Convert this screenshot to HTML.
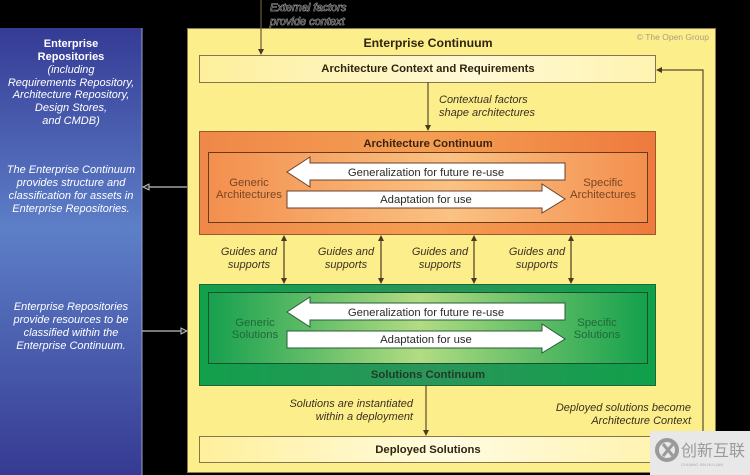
<!DOCTYPE html>
<html><head><meta charset="utf-8"><style>
html,body{margin:0;padding:0;background:#000;}
svg{display:block;}
text{font-family:"Liberation Sans",Arial,sans-serif;}
</style></head><body>
<svg width="750" height="475" viewBox="0 0 750 475" xmlns="http://www.w3.org/2000/svg">
<defs>
<linearGradient id="blue" x1="0" y1="0" x2="0" y2="1">
<stop offset="0" stop-color="#353b95"/><stop offset="0.45" stop-color="#5d7fc8"/><stop offset="1" stop-color="#363a92"/>
</linearGradient>
<linearGradient id="ctx" x1="0" y1="0" x2="1" y2="0">
<stop offset="0" stop-color="#fdef9c"/><stop offset="0.6" stop-color="#fff9d6"/><stop offset="1" stop-color="#fff3b0"/>
</linearGradient>
<linearGradient id="dep" x1="0" y1="0" x2="1" y2="0">
<stop offset="0" stop-color="#fff09c"/><stop offset="0.55" stop-color="#fffbe0"/><stop offset="1" stop-color="#fff3b0"/>
</linearGradient>
<linearGradient id="oOut" x1="0" y1="0" x2="1" y2="0">
<stop offset="0" stop-color="#ef8849"/><stop offset="0.5" stop-color="#f49e52"/><stop offset="1" stop-color="#ee7a3e"/>
</linearGradient>
<linearGradient id="oIn" x1="0" y1="0" x2="1" y2="0">
<stop offset="0" stop-color="#f38f4e"/><stop offset="0.55" stop-color="#fac283"/><stop offset="1" stop-color="#f38f4e"/>
</linearGradient>
<linearGradient id="gOut" x1="0" y1="0" x2="1" y2="0">
<stop offset="0" stop-color="#12a04c"/><stop offset="0.5" stop-color="#2b955a"/><stop offset="1" stop-color="#10a04a"/>
</linearGradient>
<linearGradient id="gIn" x1="0" y1="0" x2="1" y2="0">
<stop offset="0" stop-color="#16a04e"/><stop offset="0.48" stop-color="#b2dc82"/><stop offset="1" stop-color="#14a04c"/>
</linearGradient>
</defs>

<!-- blue repository column -->
<rect x="0" y="28" width="142" height="447" fill="url(#blue)"/>
<line x1="142" y1="28" x2="142" y2="475" stroke="#9aa0c8" stroke-width="1"/>
<g fill="#ffffff" text-anchor="middle" font-size="11">
<text x="71" y="47" font-weight="bold">Enterprise</text>
<text x="71" y="60" font-weight="bold">Repositories</text>
<g font-style="italic">
<text x="71" y="73">(including</text>
<text x="71" y="86">Requirements Repository,</text>
<text x="71" y="98">Architecture Repository,</text>
<text x="71" y="111">Design Stores,</text>
<text x="71" y="124">and CMDB)</text>
<text x="71" y="173">The Enterprise Continuum</text>
<text x="71" y="186">provides structure and</text>
<text x="71" y="199">classification for assets in</text>
<text x="71" y="212">Enterprise Repositories.</text>
<text x="71" y="310">Enterprise Repositories</text>
<text x="71" y="323">provide resources to be</text>
<text x="71" y="336">classified within the</text>
<text x="71" y="349">Enterprise Continuum.</text>
</g></g>

<!-- main yellow box -->
<rect x="187.5" y="28.5" width="528" height="444" fill="#fdee8c" stroke="#8a7d55" stroke-width="1"/>
<text x="428" y="47" text-anchor="middle" font-size="12.3" font-weight="bold" fill="#2e2510">Enterprise Continuum</text>
<text x="709" y="40" text-anchor="end" font-size="8.5" fill="#a8a080">© The Open Group</text>

<!-- context box -->
<rect x="199.5" y="55.5" width="456" height="27" fill="url(#ctx)" stroke="#857650" stroke-width="1"/>
<text x="428" y="72" text-anchor="middle" font-size="11.3" font-weight="bold" fill="#2e2510">Architecture Context and Requirements</text>

<!-- external factors -->
<line x1="261" y1="0" x2="261" y2="50" stroke="#6a5a3a" stroke-width="1.2"/>
<polygon points="258,49 264,49 261,55" fill="#4a3a20"/>
<g font-size="11" font-style="italic" fill="#333" stroke="#e8e8e8" stroke-width="0.6" paint-order="stroke">
<text x="270" y="11">External factors</text>
<text x="270" y="25">provide context</text>
</g>

<!-- contextual factors arrow -->
<line x1="428" y1="82" x2="428" y2="126" stroke="#5a4a30" stroke-width="1.2"/>
<polygon points="425,125 431,125 428,131" fill="#4a3a20"/>
<g font-size="11" font-style="italic" fill="#3a3020">
<text x="439" y="103">Contextual factors</text>
<text x="439" y="116">shape architectures</text>
</g>

<!-- Architecture continuum -->
<rect x="199.5" y="131.5" width="456" height="103" fill="url(#oOut)" stroke="#9a5a30" stroke-width="1"/>
<rect x="208.5" y="152.5" width="439" height="70" fill="url(#oIn)" stroke="#6a3a1a" stroke-width="1"/>
<text x="428" y="147" text-anchor="middle" font-size="11.3" font-weight="bold" fill="#3a2410">Architecture Continuum</text>
<polygon points="565,163 310,163 310,157 287,172 310,187 310,180 565,180" fill="#fff" stroke="#6a4028" stroke-width="1"/>
<polygon points="287,191 542,191 542,184 565,199 542,213 542,208 287,208" fill="#fff" stroke="#6a4028" stroke-width="1"/>
<g font-size="11.3" fill="#2a2a2a" text-anchor="middle">
<text x="426" y="176">Generalization for future re-use</text>
<text x="426" y="203">Adaptation for use</text>
</g>
<g font-size="11.3" fill="#7b4520" text-anchor="middle">
<text x="249" y="186">Generic</text>
<text x="249" y="198">Architectures</text>
<text x="603" y="186">Specific</text>
<text x="603" y="198">Architectures</text>
</g>

<!-- guides and supports -->
<g stroke="#4a3a20" stroke-width="1.2">
<line x1="284" y1="240" x2="284" y2="279"/>
<line x1="381" y1="240" x2="381" y2="279"/>
<line x1="474" y1="240" x2="474" y2="279"/>
<line x1="571" y1="240" x2="571" y2="279"/>
</g>
<g fill="#4a3a20">
<polygon points="281,241 287,241 284,235"/><polygon points="281,278 287,278 284,284"/>
<polygon points="378,241 384,241 381,235"/><polygon points="378,278 384,278 381,284"/>
<polygon points="471,241 477,241 474,235"/><polygon points="471,278 477,278 474,284"/>
<polygon points="568,241 574,241 571,235"/><polygon points="568,278 574,278 571,284"/>
</g>
<g font-size="11" font-style="italic" fill="#3a3020" text-anchor="middle">
<text x="249" y="255">Guides and</text><text x="249" y="268">supports</text>
<text x="346" y="255">Guides and</text><text x="346" y="268">supports</text>
<text x="440" y="255">Guides and</text><text x="440" y="268">supports</text>
<text x="537" y="255">Guides and</text><text x="537" y="268">supports</text>
</g>

<!-- Solutions continuum -->
<rect x="199.5" y="284.5" width="456" height="101" fill="url(#gOut)" stroke="#1a6a38" stroke-width="1"/>
<rect x="208.5" y="292.5" width="439" height="71" fill="url(#gIn)" stroke="#1a5030" stroke-width="1"/>
<polygon points="565,303 310,303 310,297 287,312 310,327 310,320 565,320" fill="#fff" stroke="#2a5a3a" stroke-width="1"/>
<polygon points="287,331 542,331 542,324 565,339 542,353 542,348 287,348" fill="#fff" stroke="#2a5a3a" stroke-width="1"/>
<g font-size="11.3" fill="#2a2a2a" text-anchor="middle">
<text x="426" y="316">Generalization for future re-use</text>
<text x="426" y="343">Adaptation for use</text>
</g>
<g font-size="11.3" fill="#1f6a38" text-anchor="middle">
<text x="255" y="326">Generic</text>
<text x="255" y="338">Solutions</text>
<text x="597" y="326">Specific</text>
<text x="597" y="338">Solutions</text>
</g>
<text x="428" y="378" text-anchor="middle" font-size="11.3" font-weight="bold" fill="#1e3b28">Solutions Continuum</text>

<!-- solutions instantiated -->
<line x1="426" y1="386" x2="426" y2="431" stroke="#5a4a30" stroke-width="1.2"/>
<polygon points="423,430 429,430 426,436" fill="#4a3a20"/>
<g font-size="11" font-style="italic" fill="#3a3020" text-anchor="end">
<text x="413" y="407">Solutions are instantiated</text>
<text x="413" y="420">within a deployment</text>
<text x="691" y="411">Deployed solutions become</text>
<text x="691" y="424">Architecture Context</text>
</g>

<!-- deployed -->
<rect x="199.5" y="436.5" width="456" height="26" fill="url(#dep)" stroke="#857650" stroke-width="1"/>
<text x="428" y="453" text-anchor="middle" font-size="11.3" font-weight="bold" fill="#2e2510">Deployed Solutions</text>

<!-- feedback loop -->
<polyline points="656,449 703,449 703,70 661,70" fill="none" stroke="#5a4a30" stroke-width="1.2"/>
<polygon points="662,67 662,73 656,70" fill="#4a3a20"/>

<!-- left connectors -->
<line x1="187" y1="187" x2="148" y2="187" stroke="#c0c0c0" stroke-width="1.2"/>
<polygon points="149,184 149,190 143,187" fill="#222" stroke="#c0c0c0" stroke-width="1"/>
<line x1="142" y1="331" x2="181" y2="331" stroke="#c0c0c0" stroke-width="1.2"/>
<polygon points="181,328 181,334 187,331" fill="#222" stroke="#c0c0c0" stroke-width="1"/>

<!-- watermark -->
<rect x="650" y="431" width="100" height="44" fill="#e8e8e8"/>
<circle cx="667" cy="450" r="10" fill="none" stroke="#9a9a9a" stroke-width="4"/>
<path d="M663 444 L673 456 M673 444 L663 456" stroke="#9a9a9a" stroke-width="3"/>
<text x="681" y="456" font-family="'Liberation Sans','Noto Sans CJK SC',sans-serif" font-size="16" fill="#9a9a9a">创新互联</text>
<text x="681" y="466" font-size="4" fill="#aaa">CHUANG XIN HU LIAN</text>
</svg>
</body></html>
